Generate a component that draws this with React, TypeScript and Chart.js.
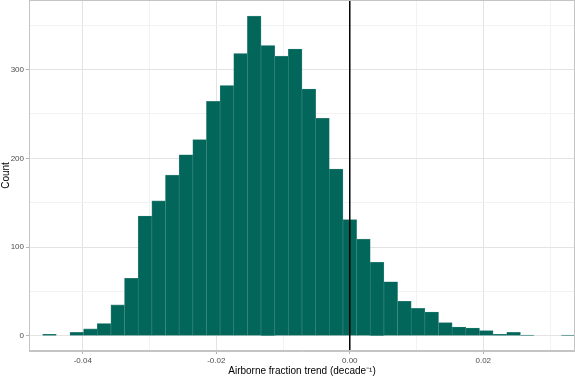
import React, { useEffect, useRef } from "react";
import { Chart, registerables } from "chart.js";

Chart.register(...registerables);

// Histogram bins: centred on multiples of the bin width (k = -23 .. 16)
const binWidth = 0.002045;
const firstBinIndex = -23;
const counts: number[] = [
  0, 2, 0, 4, 8, 14, 35, 65, 135, 152, 181, 204, 221, 264, 282, 318, 360, 327, 315, 323, 278, 245, 188,
  131, 109, 83, 61, 39, 31, 27, 15, 10, 9, 6, 2, 4, 1, 0, 0, 1,
];
const binCenters: number[] = counts.map((_, i) => (firstBinIndex + i) * binWidth);

const xMin = (firstBinIndex - 0.5) * binWidth;
const xMax = (firstBinIndex + counts.length - 0.5) * binWidth;
const xGridValues: number[] = [-0.04, -0.03, -0.02, -0.01, 0, 0.01, 0.02, 0.03];
const xTickLabels: string[] = ["-0.04", "", "-0.02", "", "0.00", "", "0.02", ""];
const yGridValues: number[] = [0, 50, 100, 150, 200, 250, 300, 350];
const yTickLabels: string[] = ["0", "", "100", "", "200", "", "300", ""];
const yMin = -16.9;
const yMax = 378.2;
const refLineX = 0;

const xTitle = "Airborne fraction trend (decade\u207B\u00B9)";
const yTitle = "Count";

const FONT = "'Liberation Sans', Arial, sans-serif";

export default function App() {
  const ref = useRef<HTMLCanvasElement | null>(null);

  useEffect(() => {
    document.body.style.margin = "0";
    const canvas = ref.current;
    if (!canvas) return;

    const overlay = {
      id: "overlay",
      afterDatasetsDraw(chart: any) {
        const { ctx, chartArea, scales } = chart;
        ctx.save();
        const px = scales.x.getPixelForValue(refLineX);
        ctx.strokeStyle = "#000000";
        ctx.lineWidth = 1.5;
        ctx.beginPath();
        ctx.moveTo(px, chartArea.top);
        ctx.lineTo(px, chartArea.bottom);
        ctx.stroke();
        ctx.strokeStyle = "#c4c4c4";
        ctx.lineWidth = 1;
        ctx.strokeRect(
          chartArea.left + 0.5,
          chartArea.top + 0.5,
          chartArea.right - chartArea.left - 1,
          chartArea.bottom - chartArea.top - 1
        );
        ctx.restore();
      },
      afterDraw(chart: any) {
        const { ctx, chartArea } = chart;
        ctx.save();
        ctx.fillStyle = "#000000";
        ctx.font = `10px ${FONT}`;
        ctx.textAlign = "center";
        ctx.textBaseline = "middle";
        ctx.fillText(xTitle, (chartArea.left + chartArea.right) / 2, 371);
        ctx.translate(6, (chartArea.top + chartArea.bottom) / 2);
        ctx.rotate(-Math.PI / 2);
        ctx.fillText(yTitle, 0, 0);
        ctx.restore();
      },
    };

    const labelFor = (grid: number[], labels: string[], v: number) => {
      const i = grid.findIndex((g) => Math.abs(g - v) < 1e-9);
      return i >= 0 ? labels[i] : "";
    };
    const majorX = (c: any) =>
      c && c.tick && labelFor(xGridValues, xTickLabels, c.tick.value) !== "";
    const majorY = (c: any) =>
      c && c.tick && labelFor(yGridValues, yTickLabels, c.tick.value) !== "";

    const zeroPad = (scale: any) => {
      scale.paddingTop = 0;
      scale.paddingBottom = 0;
      scale.paddingLeft = 0;
      scale.paddingRight = 0;
    };

    const chart = new Chart(canvas, {
      type: "bar",
      data: {
        datasets: [
          {
            data: binCenters.map((c, i) => ({ x: c, y: counts[i] })) as any,
            backgroundColor: "#02665b",
            borderColor: "#3f8a80",
            borderWidth: 0.6,
            barPercentage: 1,
            categoryPercentage: 1,
          },
        ],
      },
      options: {
        animation: false,
        responsive: true,
        maintainAspectRatio: false,
        layout: { padding: 0 },
        plugins: {
          legend: { display: false },
          tooltip: { enabled: false },
          title: { display: false },
        },
        scales: {
          x: {
            type: "linear",
            offset: false,
            min: xMin,
            max: xMax,
            afterFit(scale: any) {
              scale.height = 27;
              zeroPad(scale);
            },
            afterBuildTicks(scale: any) {
              scale.ticks = xGridValues.map((v) => ({ value: v }));
            },
            ticks: {
              autoSkip: false,
              maxRotation: 0,
              padding: 2,
              color: "#4d4d4d",
              font: { size: 8, family: FONT },
              callback: (v: any) => labelFor(xGridValues, xTickLabels, Number(v)),
            },
            grid: {
              offset: false,
              color: (c: any) => (majorX(c) ? "#e3e3e3" : "#f2f2f2"),
              lineWidth: 1,
              tickLength: 3,
              tickColor: (c: any) => (majorX(c) ? "#b3b3b3" : "rgba(0,0,0,0)"),
            },
            border: { display: true, color: "#c4c4c4" },
          },
          y: {
            type: "linear",
            min: yMin,
            max: yMax,
            afterFit(scale: any) {
              scale.width = 29;
              zeroPad(scale);
            },
            afterBuildTicks(scale: any) {
              scale.ticks = yGridValues.map((v) => ({ value: v }));
            },
            ticks: {
              autoSkip: false,
              padding: 2,
              color: "#4d4d4d",
              font: { size: 8, family: FONT },
              callback: (v: any) => labelFor(yGridValues, yTickLabels, Number(v)),
            },
            grid: {
              color: (c: any) => (majorY(c) ? "#e3e3e3" : "#f2f2f2"),
              lineWidth: 1,
              tickLength: 3,
              tickColor: (c: any) => (majorY(c) ? "#b3b3b3" : "rgba(0,0,0,0)"),
            },
            border: { display: true, color: "#c4c4c4" },
          },
        },
      } as any,
      plugins: [overlay],
    });

    return () => chart.destroy();
  }, []);

  return (
    <div style={{ width: 575, height: 378, position: "relative" }}>
      <canvas ref={ref} />
    </div>
  );
}
